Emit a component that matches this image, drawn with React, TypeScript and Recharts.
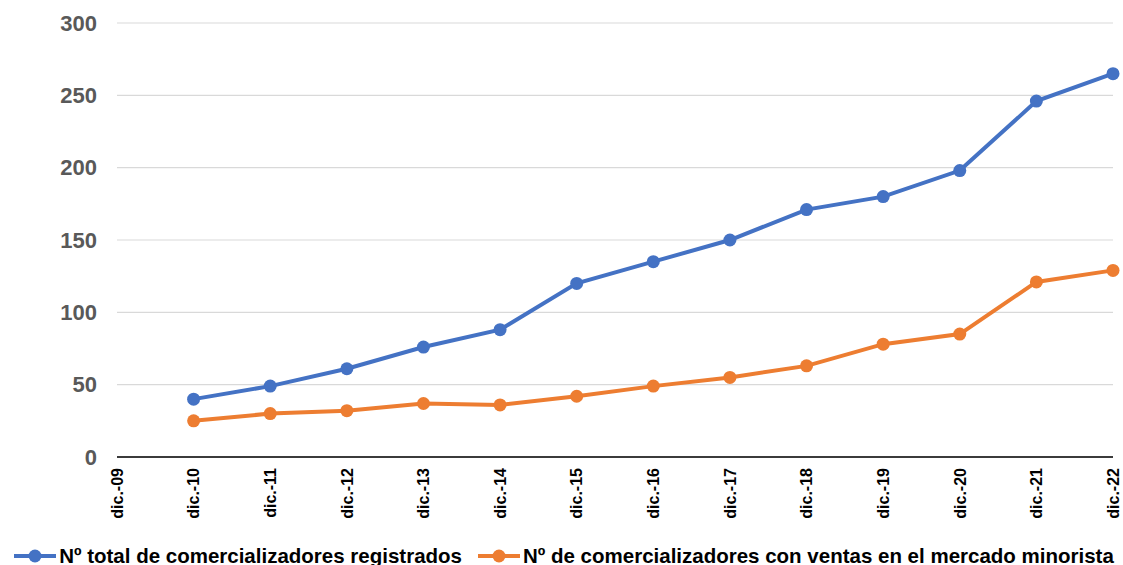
import React from 'react';
import { LineChart, Line, XAxis, YAxis, CartesianGrid, Legend } from 'recharts';

const categories = [
  'dic.-09', 'dic.-10', 'dic.-11', 'dic.-12', 'dic.-13', 'dic.-14', 'dic.-15',
  'dic.-16', 'dic.-17', 'dic.-18', 'dic.-19', 'dic.-20', 'dic.-21', 'dic.-22',
];
const registrados = [null, 40, 49, 61, 76, 88, 120, 135, 150, 171, 180, 198, 246, 265];
const minorista = [null, 25, 30, 32, 37, 36, 42, 49, 55, 63, 78, 85, 121, 129];
const yTicks = [0, 50, 100, 150, 200, 250, 300];

const SERIES = [
  { key: 'registrados', name: 'Nº total de comercializadores registrados', color: '#4472C4' },
  { key: 'minorista', name: 'Nº de comercializadores con ventas en el mercado minorista', color: '#ED7D31' },
];

const FONT = '"Liberation Sans", Arial, sans-serif';

const data = categories.map((c, i) => ({
  name: c,
  registrados: registrados[i],
  minorista: minorista[i],
}));

const XTick = ({ x, y, payload }: any) => (
  <text
    x={x}
    y={y + 3}
    dy="0.36em"
    transform={`rotate(-90, ${x}, ${y + 3})`}
    textAnchor="end"
    fontFamily={FONT}
    fontSize={16}
    fontWeight="bold"
    fill="#000"
  >
    {payload.value}
  </text>
);

const LegendContent = () => (
  <div
    style={{
      display: 'flex',
      justifyContent: 'center',
      alignItems: 'center',
      gap: 16,
      paddingLeft: 15,
      fontFamily: FONT,
      fontSize: 20.5,
      fontWeight: 'bold',
      color: '#000',
      whiteSpace: 'nowrap',
      lineHeight: '24px',
    }}
  >
    {SERIES.map((s) => (
      <div key={s.key} style={{ display: 'flex', alignItems: 'center' }}>
        <svg width={42} height={16} style={{ marginRight: 3 }}>
          <line x1={0} y1={8} x2={42} y2={8} stroke={s.color} strokeWidth={4} />
          <circle cx={21} cy={8} r={6.5} fill={s.color} />
        </svg>
        <span>{s.name}</span>
      </div>
    ))}
  </div>
);

export default function App() {
  return (
    <div style={{ position: 'absolute', left: 0, top: 0, background: '#fff' }}>
      <LineChart
        width={1123}
        height={565}
        data={data}
        margin={{ top: 23, right: 10, bottom: 0, left: 0 }}
      >
        <CartesianGrid vertical={false} stroke="#d9d9d9" strokeWidth={1.2} />
        <XAxis
          dataKey="name"
          interval={0}
          height={84}
          tick={<XTick />}
          tickLine={false}
          axisLine={{ stroke: '#000', strokeWidth: 1.5 }}
        />
        <YAxis
          width={117}
          domain={[0, 300]}
          ticks={yTicks}
          axisLine={false}
          tickLine={false}
          tickSize={0}
          tickMargin={20}
          tick={{ fill: '#595959', fontSize: 22, fontWeight: 'bold', fontFamily: FONT }}
        />
        <Legend
          verticalAlign="bottom"
          content={<LegendContent />}
          wrapperStyle={{ height: 24, bottom: -3 }}
        />
        {SERIES.map((s) => (
          <Line
            key={s.key}
            type="linear"
            dataKey={s.key}
            name={s.name}
            stroke={s.color}
            strokeWidth={4}
            dot={{ r: 6.5, fill: s.color, stroke: s.color, strokeWidth: 0 }}
            activeDot={false}
            isAnimationActive={false}
          />
        ))}
      </LineChart>
    </div>
  );
}
